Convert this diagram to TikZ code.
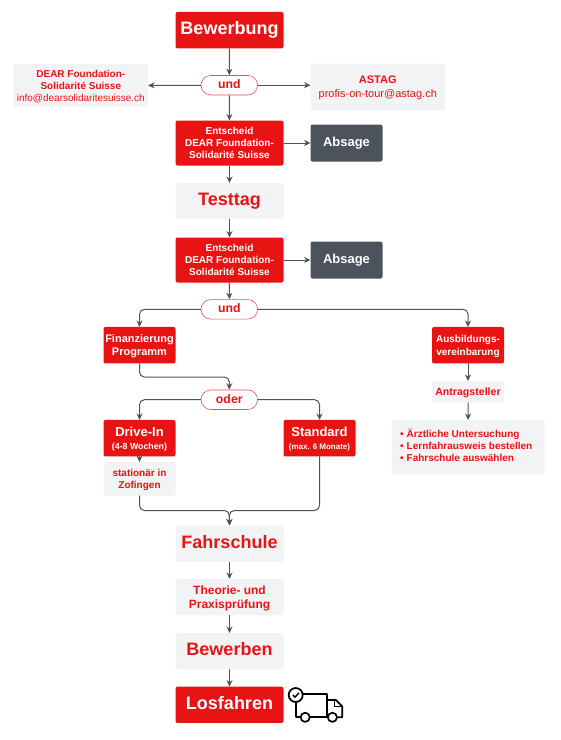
\documentclass[tikz,border=0pt]{standalone}
\usepackage{fontspec}
\setmainfont{Liberation Sans}
\usetikzlibrary{arrows.meta}
\definecolor{rd}{HTML}{E81313}
\definecolor{gy}{HTML}{F2F3F5}
\definecolor{dk}{HTML}{4C535D}
\tikzset{
  base/.style={rounded corners=2pt,align=center,inner sep=0pt,font=\bfseries,line width=0pt,text depth=0pt},
  redbox/.style={base,fill=rd,text=white},
  graybox/.style={base,fill=gy,text=rd},
  darkbox/.style={base,fill=dk,text=white},
  pill/.style={base,fill=white,draw=rd!75,line width=0.6pt,rounded corners=9.7pt,text=rd,minimum width=56.5pt,minimum height=19.5pt,font=\bfseries\fontsize{12.3}{14}\selectfont,text depth=2pt},
  sz/.style n args={2}{minimum width=#1pt,minimum height=#2pt},
  big/.style={font=\bfseries\fontsize{18}{21}\selectfont,text depth=4pt},
  mid/.style={font=\bfseries\fontsize{13}{14.5}\selectfont,text depth=3pt},
  sm/.style={font=\bfseries\fontsize{10}{12}\selectfont},
  conn/.style={draw=dk,line width=1pt,rounded corners=5pt,-{Stealth[length=6.5pt,width=6pt]}},
  ico/.style={draw=black,line width=1.7pt,line join=round},
}
\begin{document}
\begin{tikzpicture}[x=1pt,y=-1pt]
\useasboundingbox (0,0) rectangle (561,740);
\node[redbox,big,sz={108}{36.5}] (bew) at (229.5,30.2) {Bewerbung};
\node[pill] (und1) at (229.3,85.2) {und};
\node[graybox,sz={134.5}{43},font=\fontsize{10}{12}\selectfont] (dear) at (80.8,85.5) {\textbf{DEAR Foundation-}\\[0pt]\textbf{Solidarité Suisse}\\info@dearsolidaritesuisse.ch};
\node[graybox,sz={134.5}{47},font=\fontsize{11}{14}\selectfont] (astag) at (377.8,87) {\textbf{ASTAG}\\profis-on-tour@astag.ch};
\node[redbox,sm,sz={108}{45}] (ent1) at (229.5,143) {Entscheid\\DEAR Foundation-\\Solidarité Suisse};
\node[darkbox,mid,sz={72}{37}] (abs1) at (346.5,143) {Absage};
\node[graybox,big,sz={108}{36}] (test) at (229.5,201) {Testtag};
\node[redbox,sm,sz={108}{45}] (ent2) at (229.5,260) {Entscheid\\DEAR Foundation-\\Solidarité Suisse};
\node[darkbox,mid,sz={72}{37}] (abs2) at (346.5,260) {Absage};
\node[pill] (und2) at (229.3,309.3) {und};
\node[redbox,font=\bfseries\fontsize{11}{13.2}\selectfont,sz={72}{36.5}] (fin) at (139.5,345.2) {Finanzierung\\Programm};
\node[redbox,font=\bfseries\fontsize{10}{12.5}\selectfont,sz={72}{36.5}] (aus) at (468,345.2) {Ausbildungs-\\vereinbarung};
\node[graybox,sz={72}{21.7},font=\bfseries\fontsize{10.6}{12}\selectfont] (ant) at (468,391.8) {Antragsteller};
\node[graybox,sz={153}{54}] (list) at (468.2,447) {};
\node[anchor=west,text=rd,align=left,inner sep=0pt,font=\bfseries\fontsize{10}{12.2}\selectfont] (listtxt) at (400,445.5) {•\hspace{3pt}Ärztliche Untersuchung\\•\hspace{3pt}Lernfahrausweis bestellen\\•\hspace{3pt}Fahrschule auswählen};
\node[pill] (oder) at (229.3,399.7) {oder};
\node[redbox,sz={72}{36.5}] (drive) at (139.5,438.2) {{\fontsize{13}{14}\selectfont Drive-In}\\[1pt]{\fontsize{8.8}{9}\selectfont (4-8 Wochen)}};
\node[redbox,sz={72}{36.5}] (std) at (319.5,438.2) {{\fontsize{13}{14}\selectfont Standard}\\[1pt]{\fontsize{8}{9}\selectfont (max. 6 Monate)}};
\node[graybox,sz={72}{33.5},font=\bfseries\fontsize{10}{12.2}\selectfont] (stat) at (139.5,478.8) {stationär in\\Zofingen};
\node[graybox,big,sz={108}{36}] (fahr) at (229.5,543.5) {Fahrschule};
\node[graybox,sz={108}{36},font=\bfseries\fontsize{12}{14.5}\selectfont] (theo) at (229.5,597) {Theorie- und\\Praxisprüfung};
\node[graybox,big,sz={108}{36}] (bwb) at (229.5,651) {Bewerben};
\node[redbox,big,sz={108}{36.3}] (los) at (229.5,704.8) {Losfahren};
\coordinate (fo) at (229.3,377);
\coordinate (mer) at (229.3,510.5);
\draw[conn] (bew) -- (und1);
\draw[conn] (und1) -- (dear);
\draw[conn] (und1) -- (und1-|astag.west);
\draw[conn] (und1) -- (ent1);
\draw[conn] (ent1) -- (abs1);
\draw[conn] (ent1) -- (test);
\draw[conn] (test) -- (ent2);
\draw[conn] (ent2) -- (abs2);
\draw[conn] (ent2) -- (und2);
\draw[conn] (und2.west) -| (fin.north);
\draw[conn] (und2.east) -| (aus.north);
\draw[conn] (fin.south) |- (fo) -- (oder.north);
\draw[conn] (oder.west) -| (drive.north);
\draw[conn] (oder.east) -| (std.north);
\draw[conn] (drive) -- (stat);
\draw[conn] (aus) -- (ant);
\draw[conn] (ant) -- (list);
\draw[conn] (stat.south) |- (mer) -- (fahr.north);
\draw[conn] (std.south) |- (mer) -- (fahr.north);
\draw[conn] (fahr) -- (theo);
\draw[conn] (theo) -- (bwb);
\draw[conn] (bwb) -- (los);
% truck icon
\draw[ico] (295.7,702) -- (295.7,717.3) -- (300.5,717.3);
\draw[ico] (302.5,694.3) -- (326.8,694.3) -- (326.8,717.3) -- (310,717.3);
\draw[ico] (326.8,700) -- (336,700) -- (342.3,706.5) -- (342.3,717.3) -- (337.5,717.3);
\draw[ico] (334.5,700) -- (334.5,706.5) -- (342.3,706.5);
\draw[ico] (305.2,717.3) circle (4.6);
\draw[ico] (332.4,717.3) circle (4.6);
\draw[ico,fill=white] (295.7,695) circle (7);
\draw[ico,line width=1.4pt] (292.8,695) -- (295,697.2) -- (299,692.8);
\end{tikzpicture}
\end{document}
